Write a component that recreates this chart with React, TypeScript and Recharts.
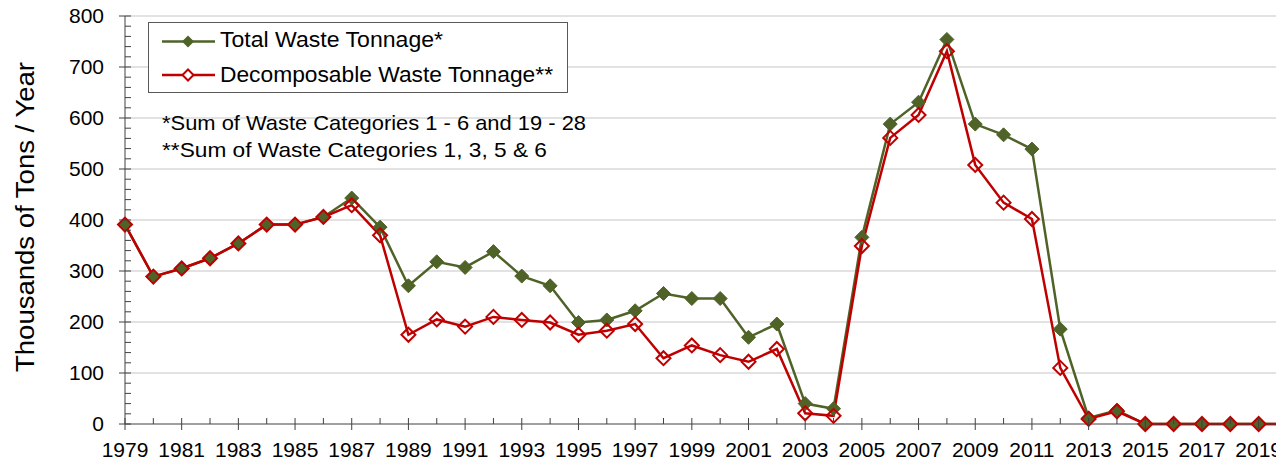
import React from 'react';
import { LineChart, Line, XAxis, YAxis, CartesianGrid } from 'recharts';

const years = [
  1979, 1980, 1981, 1982, 1983, 1984, 1985, 1986, 1987, 1988, 1989, 1990, 1991, 1992,
  1993, 1994, 1995, 1996, 1997, 1998, 1999, 2000, 2001, 2002, 2003, 2004, 2005, 2006,
  2007, 2008, 2009, 2010, 2011, 2012, 2013, 2014, 2015, 2016, 2017, 2018, 2019, 2020,
];

const totalWaste = [
  391, 289, 305, 325, 354, 391, 391, 406, 443, 386, 271, 318, 307, 338,
  290, 271, 199, 204, 222, 256, 246, 246, 170, 196, 40, 30, 366, 588,
  631, 754, 588, 567, 539, 186, 12, 27, 0, 0, 0, 0, 0, 0,
];

const decomposableWaste = [
  391, 289, 305, 325, 354, 391, 391, 406, 429, 370, 175, 205, 191, 210,
  204, 199, 175, 183, 196, 129, 154, 135, 122, 147, 21, 16, 349, 561,
  606, 731, 508, 434, 402, 110, 10, 25, 0, 0, 0, 0, 0, 0,
];

const yTicks = Array.from({ length: 41 }, (_, i) => i * 20);
const gridValues = [100, 200, 300, 400, 500, 600, 700, 800];

const data = years.map((year, i) => ({
  year,
  total: totalWaste[i],
  decomposable: decomposableWaste[i],
}));

const GREEN = '#4F6228';
const RED = '#C00000';
const AXIS = '#404040';
const FONT = '"Liberation Sans", Arial, sans-serif';

const XTick = ({ x, y, payload }: any) => {
  const v = payload.value;
  const major = v % 2 === 1;
  return (
    <g>
      <line x1={x} x2={x} y1={y - 6} y2={major ? y + 6 : y} stroke={AXIS} strokeWidth={1} />
      {major && (
        <text x={x} y={y + 33} textAnchor="middle" fontSize={21} fill="#000" fontFamily={FONT}>
          {v}
        </text>
      )}
    </g>
  );
};

const YTick = ({ x, y, payload }: any) => {
  const v = payload.value;
  const major = v % 100 === 0;
  return (
    <g>
      <line x1={major ? x - 6 : x} x2={x + 6} y1={y} y2={y} stroke={AXIS} strokeWidth={1} />
      {major && (
        <text x={x - 21} y={y + 7} textAnchor="end" fontSize={21} fill="#000" fontFamily={FONT}>
          {v}
        </text>
      )}
    </g>
  );
};

const FilledDiamond = (props: any) => {
  const { cx, cy, index } = props;
  if (cx == null || cy == null) return null;
  const r = 7;
  return (
    <polygon
      key={`g-${index}`}
      points={`${cx},${cy - r} ${cx + r},${cy} ${cx},${cy + r} ${cx - r},${cy}`}
      fill={GREEN}
      stroke={GREEN}
      strokeWidth={1}
    />
  );
};

const HollowDiamond = (props: any) => {
  const { cx, cy, index } = props;
  if (cx == null || cy == null) return null;
  const r = 7;
  return (
    <polygon
      key={`r-${index}`}
      points={`${cx},${cy - r} ${cx + r},${cy} ${cx},${cy + r} ${cx - r},${cy}`}
      fill="none"
      stroke={RED}
      strokeWidth={2}
    />
  );
};

export default function App() {
  return (
    <div
      style={{
        position: 'absolute',
        left: 0,
        top: 0,
        width: 1276,
        height: 465,
        overflow: 'hidden',
        background: '#fff',
      }}
    >
      <LineChart
        width={1300}
        height={465}
        data={data}
        margin={{ top: 16, right: 13, bottom: 0, left: 0 }}
      >
        <CartesianGrid
          vertical={false}
          horizontalValues={gridValues}
          stroke="#D9D9D9"
          strokeWidth={1.5}
        />
        <XAxis
          dataKey="year"
          type="number"
          domain={[1979, 2020]}
          ticks={years}
          interval={0}
          height={41}
          tickSize={0}
          tickMargin={0}
          tick={<XTick />}
          axisLine={{ stroke: AXIS, strokeWidth: 1 }}
          tickLine={false}
        />
        <YAxis
          type="number"
          domain={[0, 800]}
          ticks={yTicks}
          interval={0}
          width={125}
          tickSize={0}
          tickMargin={0}
          tick={<YTick />}
          axisLine={{ stroke: AXIS, strokeWidth: 1 }}
          tickLine={false}
        />
        <Line
          type="linear"
          dataKey="total"
          stroke={GREEN}
          strokeWidth={2.5}
          dot={FilledDiamond}
          activeDot={false}
          isAnimationActive={false}
        />
        <Line
          type="linear"
          dataKey="decomposable"
          stroke={RED}
          strokeWidth={2.5}
          dot={HollowDiamond}
          activeDot={false}
          isAnimationActive={false}
        />
      </LineChart>

      <svg
        width={1276}
        height={465}
        style={{ position: 'absolute', left: 0, top: 0, pointerEvents: 'none' }}
        fontFamily={FONT}
      >
        <text
          transform="translate(34,217) rotate(-90)"
          textAnchor="middle"
          fontSize={25}
          fill="#000"
          textLength={310}
          lengthAdjust="spacingAndGlyphs"
        >
          Thousands of Tons / Year
        </text>

        <rect x={148.5} y={22.5} width={419} height={70} fill="#fff" stroke="#595959" strokeWidth={1} />
        <line x1={162} x2={215} y1={41.5} y2={41.5} stroke={GREEN} strokeWidth={2.5} />
        <polygon points="188,35.5 194,41.5 188,47.5 182,41.5" fill={GREEN} />
        <text x={220} y={47} fontSize={22.5} fill="#000" textLength={223} lengthAdjust="spacingAndGlyphs">
          Total Waste Tonnage*
        </text>
        <line x1={162} x2={215} y1={75} y2={75} stroke={RED} strokeWidth={2.5} />
        <polygon points="188,69.5 193.5,75 188,80.5 182.5,75" fill="#fff" stroke={RED} strokeWidth={2} />
        <text x={220} y={82} fontSize={22.5} fill="#000" textLength={333} lengthAdjust="spacingAndGlyphs">
          Decomposable Waste Tonnage**
        </text>

        <text x={162} y={130} fontSize={21} fill="#000" textLength={424} lengthAdjust="spacingAndGlyphs">
          *Sum of Waste Categories 1 - 6 and 19 - 28
        </text>
        <text x={162} y={157} fontSize={21} fill="#000" textLength={385} lengthAdjust="spacingAndGlyphs">
          **Sum of Waste Categories 1, 3, 5 &amp; 6
        </text>
      </svg>
    </div>
  );
}
